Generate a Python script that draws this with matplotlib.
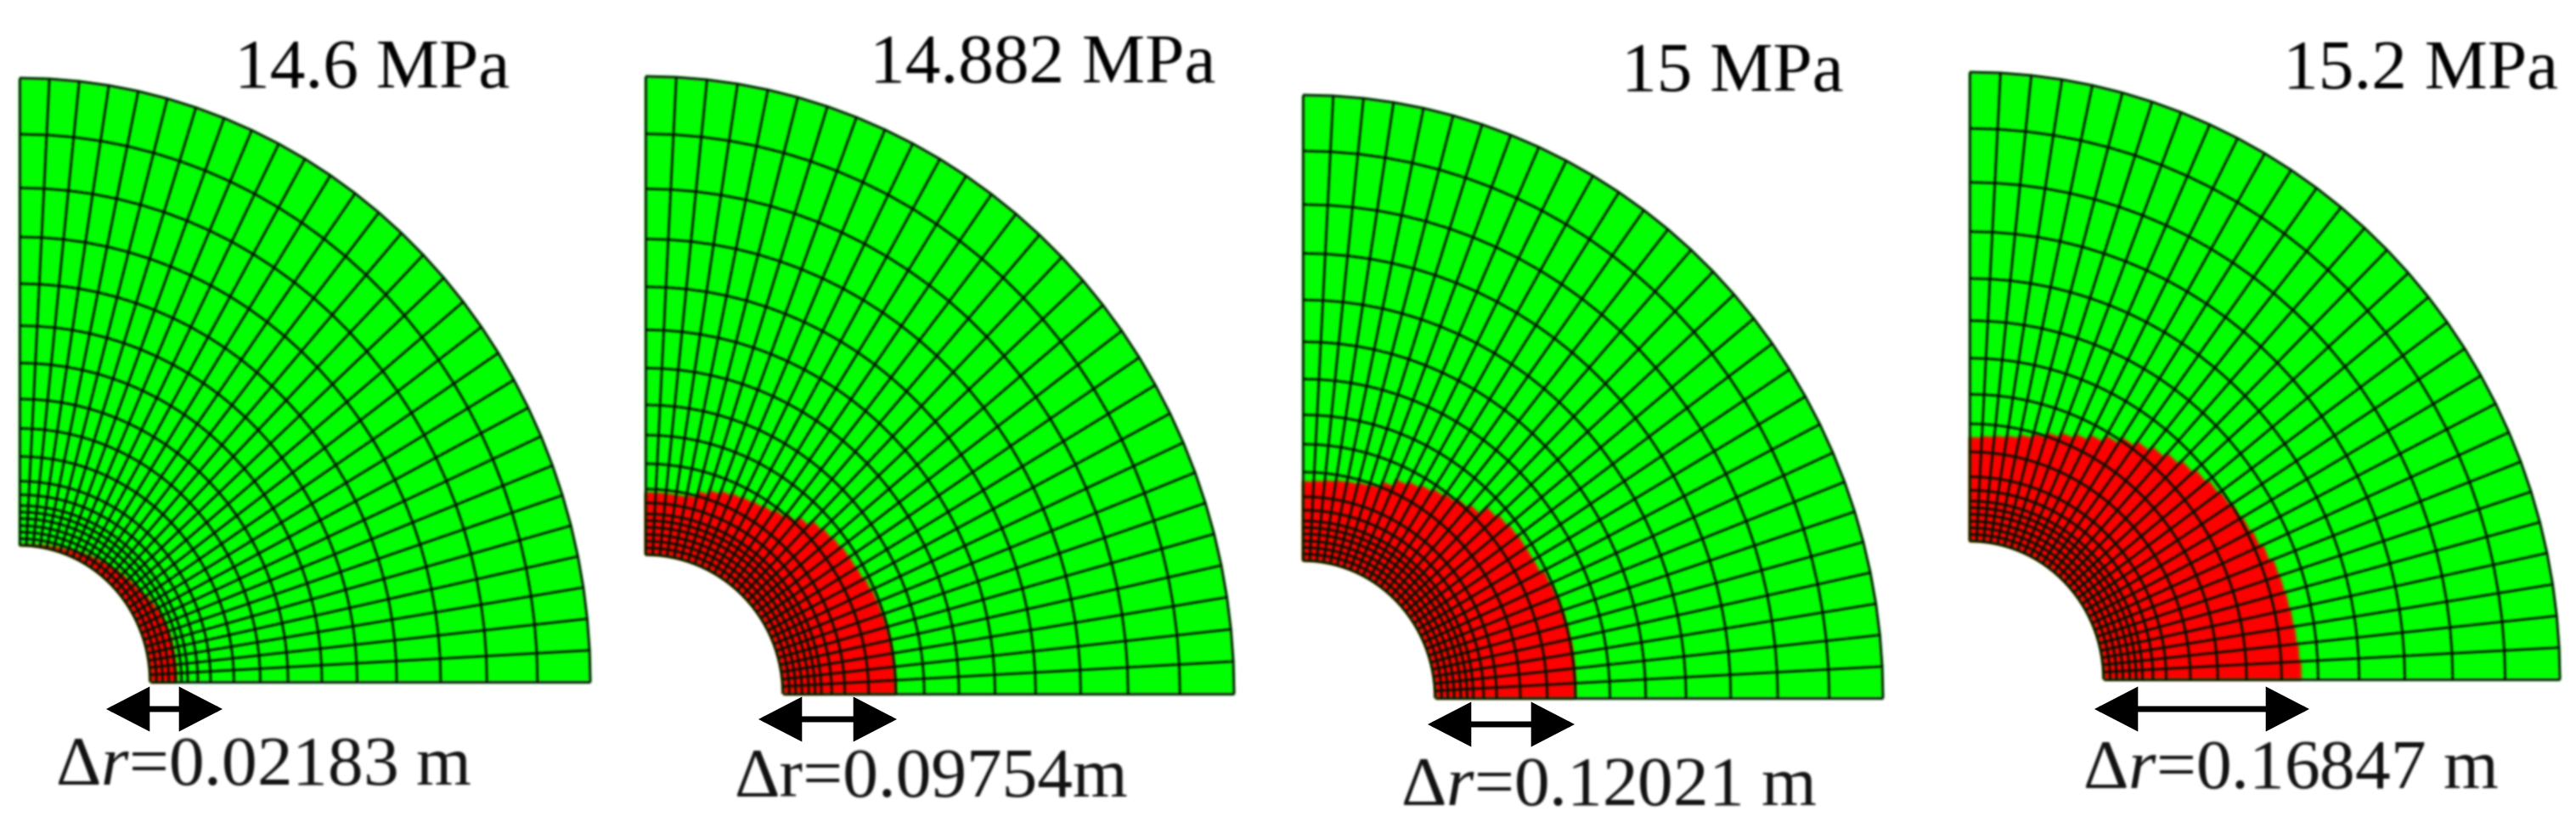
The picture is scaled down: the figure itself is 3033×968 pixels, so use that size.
import numpy as np
import matplotlib
matplotlib.use("Agg")
import matplotlib.pyplot as plt
from matplotlib.collections import LineCollection, PolyCollection
from matplotlib.patches import FancyArrowPatch

# ---- data ----
pressure_labels = ["14.6 MPa", "14.882 MPa", "15 MPa", "15.2 MPa"]
delta_labels = ["Δ$\\mathit{r}$=0.02183 m", "Δr=0.09754m",
                "Δ$\\mathit{r}$=0.12021 m", "Δ$\\mathit{r}$=0.16847 m"]
# ring boundaries across the wall (0 = hole, 1 = outer arc)
ring_fractions = [0, .014, .028, .042, .057, .071, .085, .108, .137, .19,
                  .25, .313, .39, .47, .56, .66, .765, .88, 1]
sector_degrees = [0, 3, 6, 9, 12, 15, 18, 21, 24, 27, 30, 33, 36, 39, 42, 45,
                  48, 51, 54, 57, 60, 63, 66, 69, 72, 75, 78, 81, 84, 87, 90]
# reach of the plastic (red) zone across the wall in each sector, bottom to top
plastic_146 = [.06, .06, .06, .06, .06, .06, .059, .058, .056, .052,
               .048, .043, .04, .037, .034, .032, .029, .027, .024, .021,
               .018, .015, .013, .01, .008, .006, .005, .003, .002, .001]
plastic_14882 = [.25, .25, .25, .25, .25, .249, .247, .245, .241, .236,
                 .234, .233, .229, .225, .22, .206, .192, .184, .177, .173,
                 .17, .167, .163, .156, .147, .134, .13, .13, .13, .13]
plastic_15 = [.313, .314, .315, .316, .315, .314, .313, .311, .308, .299,
              .298, .298, .296, .292, .285, .263, .254, .246, .24, .233,
              .226, .218, .202, .188, .184, .18, .178, .175, .172, .17]
plastic_152 = [.433, .43, .427, .425, .423, .421, .419, .41, .402, .397,
               .392, .386, .38, .373, .364, .354, .343, .332, .32, .305,
               .29, .278, .268, .258, .248, .238, .231, .227, .224, .221]
plastic_reach = [plastic_146, plastic_14882, plastic_15, plastic_152]

# ---- layout in pixels ----
W, H = 3033, 968
# cx, cy, outer rx, outer ry, inner rx, inner ry
panels = [(23, 803, 672, 711, 154, 161),
          (760, 817, 693, 727, 162, 164),
          (1534, 822, 683, 710, 156, 162),
          (2319, 800, 695, 715, 158, 163)]
title_xy = [(276, 103), (1024, 97), (1909, 107), (2688, 104)]
delta_xy = [(65, 924), (865, 938), (1649, 948), (2452, 928)]
arrow_xy = [(125, 262, 835), (893, 1056, 847), (1681, 1854, 853), (2466, 2719, 835)]

plt.rcParams["font.family"] = ["Liberation Serif", "DejaVu Serif"]
plt.rcParams["mathtext.fontset"] = "custom"
plt.rcParams["mathtext.it"] = "Liberation Serif:italic"
plt.rcParams["mathtext.rm"] = "Liberation Serif"


def soften(sigma):
    """agg filter: slight gaussian softening, like the scanned original."""
    radius = int(3 * sigma)
    offs = np.arange(-radius, radius + 1)
    kernel = np.exp(-offs ** 2 / (2 * sigma ** 2))
    kernel /= kernel.sum()

    def apply(img, dpi):
        pad = radius + 1
        rgba = np.pad(img, ((pad, pad), (pad, pad), (0, 0)))
        rgba[..., :3] *= rgba[..., 3:]
        for axis in (0, 1):
            out = np.zeros_like(rgba)
            for o, k in zip(offs, kernel):
                out += k * np.roll(rgba, o, axis=axis)
            rgba = out
        alpha = np.clip(rgba[..., 3:], 1e-6, None)
        rgba[..., :3] = np.clip(rgba[..., :3] / alpha, 0, 1)
        return rgba, -pad, -pad
    return apply


fig = plt.figure(figsize=(W / 100, H / 100), dpi=100, facecolor="white")
theta = np.deg2rad(sector_degrees)
frac = np.array(ring_fractions)
LINE = "#021202"

for (cx, cy, rx, ry, irx, iry), reach in zip(panels, plastic_reach):
    ax = fig.add_axes([cx / W, 1 - cy / H, rx / W, ry / H])
    ax.set_xlim(0, rx)
    ax.set_ylim(0, ry)
    ax.axis("off")

    def pt(t, f):
        return (irx + f * (rx - irx)) * np.cos(t), (iry + f * (ry - iry)) * np.sin(t)

    green, red = [], []
    for i, f_red in enumerate(reach):
        t0, t1 = theta[i], theta[i + 1]
        green.append([pt(t0, 0), pt(t0, 1), pt(t1, 1), pt(t1, 0)])
        red.append([pt(t0, 0), pt(t0, f_red), pt(t1, f_red), pt(t1, 0)])
    lines = [[pt(t, f) for f in frac] for t in theta]
    lines += [[pt(t, f) for t in theta] for f in frac]

    artists = [
        PolyCollection(green, facecolors="#00ff00", edgecolors="#00ff00", linewidths=0.4),
        PolyCollection(red, facecolors="#ff0000", edgecolors="#ff0000", linewidths=0.4),
        LineCollection(lines, colors=LINE, linewidths=2.0, capstyle="butt"),
    ]
    for art in artists:
        art.set_clip_on(False)
        art.set_agg_filter(soften(1.3))
        ax.add_collection(art, autolim=False)

over = fig.add_axes([0, 0, 1, 1])
over.set_xlim(0, W)
over.set_ylim(H, 0)
over.axis("off")
over.patch.set_alpha(0)

for label, (x, y) in zip(pressure_labels, title_xy):
    t = over.text(x, y, label, fontsize=60, color="#000000", ha="left", va="baseline")
    t.set_agg_filter(soften(1.2))
for label, (x, y) in zip(delta_labels, delta_xy):
    t = over.text(x, y, label, fontsize=60, color="#111111", ha="left", va="baseline")
    t.set_agg_filter(soften(1.2))
for x0, x1, y in arrow_xy:
    arrow = FancyArrowPatch((x0, y), (x1, y),
                            arrowstyle="<|-|>,head_length=29,head_width=15",
                            mutation_scale=1, shrinkA=0, shrinkB=0,
                            lw=5, color="black", joinstyle="miter")
    arrow.set_agg_filter(soften(1.2))
    over.add_patch(arrow)

fig.savefig("out.png", dpi=100, facecolor="white")
